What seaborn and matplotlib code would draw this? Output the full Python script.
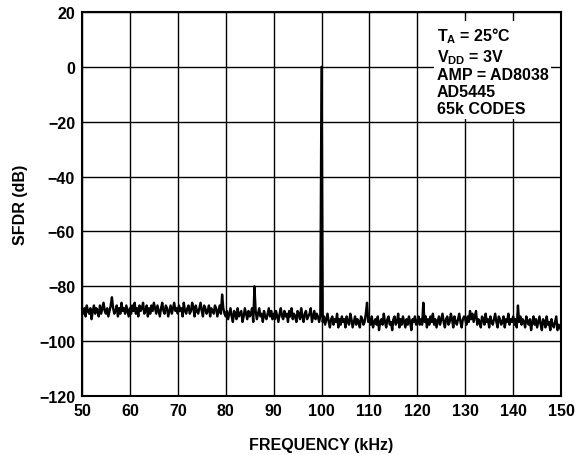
import seaborn as sns
import numpy as np
import matplotlib.pyplot as plt
import pandas as pd

# frequency grid, 0.25 kHz steps
freq_khz = np.arange(50, 150.001, 0.25)

# SFDR trace (dB), 2.5 kHz per line
sfdr_db = [
    # 50-60
    -89, -90, -88, -91, -87, -89, -90, -88, -92, -89,
    -87, -90, -88, -89, -91, -87, -90, -88, -86, -89,
    -90, -88, -91, -89, -87, -84, -88, -90, -89, -87,
    -91, -88, -90, -86, -89, -88, -90, -87, -89, -91,
    # 60-70
    -88, -90, -87, -89, -86, -90, -88, -91, -87, -89,
    -88, -86, -90, -89, -87, -91, -88, -90, -87, -89,
    -86, -88, -90, -87, -89, -91, -88, -86, -89, -90,
    -87, -88, -91, -89, -87, -90, -88, -86, -89, -88,
    # 70-80
    -90, -87, -89, -88, -91, -86, -89, -90, -88, -87,
    -90, -89, -86, -88, -91, -87, -89, -90, -88, -86,
    -89, -91, -87, -88, -90, -89, -87, -91, -88, -89,
    -90, -87, -88, -91, -89, -87, -90, -83, -88, -90,
    # 80-90
    -91, -89, -92, -90, -88, -91, -93, -89, -90, -92,
    -88, -91, -90, -89, -93, -91, -88, -90, -92, -89,
    -91, -90, -88, -93, -80, -89, -92, -90, -88, -91,
    -90, -93, -89, -91, -92, -90, -88, -91, -89, -92,
    # 90-100
    -90, -92, -89, -91, -93, -90, -88, -91, -92, -89,
    -91, -90, -93, -89, -91, -88, -92, -90, -91, -93,
    -89, -90, -92, -88, -91, -93, -90, -89, -92, -91,
    -90, -88, -93, -91, -89, -92, -90, -91, -93, -91,
    # 100-110
    0, -93, -91, -94, -92, -90, -93, -95, -92, -91,
    -94, -92, -93, -90, -95, -92, -94, -91, -93, -92,
    -95, -91, -93, -94, -90, -92, -95, -93, -91, -94,
    -92, -93, -95, -91, -92, -94, -93, -90, -86, -93,
    # 110-120
    -92, -94, -91, -95, -93, -92, -94, -91, -96, -93,
    -92, -94, -90, -93, -95, -92, -91, -94, -93, -96,
    -92, -91, -94, -93, -90, -95, -92, -94, -91, -93,
    -95, -92, -94, -91, -93, -96, -92, -93, -91, -94,
    # 120-130
    -93, -91, -94, -92, -94, -86, -93, -91, -95, -92,
    -94, -91, -93, -90, -94, -92, -95, -93, -91, -94,
    -92, -90, -93, -95, -92, -91, -94, -93, -90, -92,
    -95, -91, -93, -94, -92, -90, -93, -95, -92, -91,
    # 130-140
    -92, -94, -91, -93, -89, -92, -90, -93, -91, -89,
    -94, -92, -93, -95, -91, -92, -94, -90, -93, -92,
    -95, -91, -93, -94, -92, -90, -93, -95, -91, -92,
    -94, -93, -91, -95, -92, -93, -90, -94, -92, -93,
    # 140-150
    -91, -94, -92, -95, -87, -93, -91, -94, -92, -93,
    -95, -91, -93, -94, -92, -96, -93, -91, -94, -92,
    -95, -93, -91, -94, -96, -92, -93, -95, -91, -94,
    -93, -96, -92, -94, -95, -93, -91, -96, -94, -95,
    -96,
]

x_ticks = list(range(50, 151, 10))
y_ticks = list(range(-120, 21, 20))

notes = "T$_{\\mathrm{A}}$ = 25°C\nV$_{\\mathrm{DD}}$ = 3V\nAMP = AD8038\nAD5445\n65k CODES"

df = pd.DataFrame({"freq": freq_khz, "sfdr": sfdr_db})

sns.set_theme(style="white")
plt.rcParams["font.family"] = ["Liberation Sans", "DejaVu Sans"]
plt.rcParams["font.weight"] = "bold"
plt.rcParams["mathtext.fontset"] = "custom"
plt.rcParams["mathtext.rm"] = "Liberation Sans:bold"
plt.rcParams["mathtext.bf"] = "Liberation Sans:bold"
plt.rcParams["text.color"] = "black"
plt.rcParams["axes.labelcolor"] = "black"
plt.rcParams["xtick.color"] = "black"
plt.rcParams["ytick.color"] = "black"

fig = plt.figure(figsize=(5.79, 4.56), dpi=100)
ax = fig.add_axes([0.1416, 0.1294, 0.8274, 0.8421])

sns.lineplot(data=df, x="freq", y="sfdr", ax=ax, color="black", linewidth=1.7)

ax.set_xlim(50, 150)
ax.set_ylim(-120, 20)
ax.set_xticks(x_ticks)
ax.set_yticks(y_ticks)
ax.set_yticklabels([str(v).replace("-", "\u2212") for v in y_ticks])
ax.grid(True, color="black", linewidth=1.0)
ax.tick_params(length=0, labelsize=11.5, pad=5, labelcolor="black")
for lab in ax.get_xticklabels() + ax.get_yticklabels():
    lab.set_fontweight("bold")
for sp in ax.spines.values():
    sp.set_color("black")
    sp.set_linewidth(1.5)

ax.set_xlabel("FREQUENCY (kHz)", fontsize=11.5, fontweight="bold", labelpad=14)
ax.set_ylabel("SFDR (dB)", fontsize=11.5, fontweight="bold", labelpad=8)

ax.text(0.741, 0.966, notes, transform=ax.transAxes, ha="left", va="top",
        fontsize=11.5, fontweight="bold", linespacing=1.15, zorder=5,
        color="black", bbox=dict(facecolor="white", edgecolor="none", pad=2))

fig.savefig("out.png", dpi=100)
